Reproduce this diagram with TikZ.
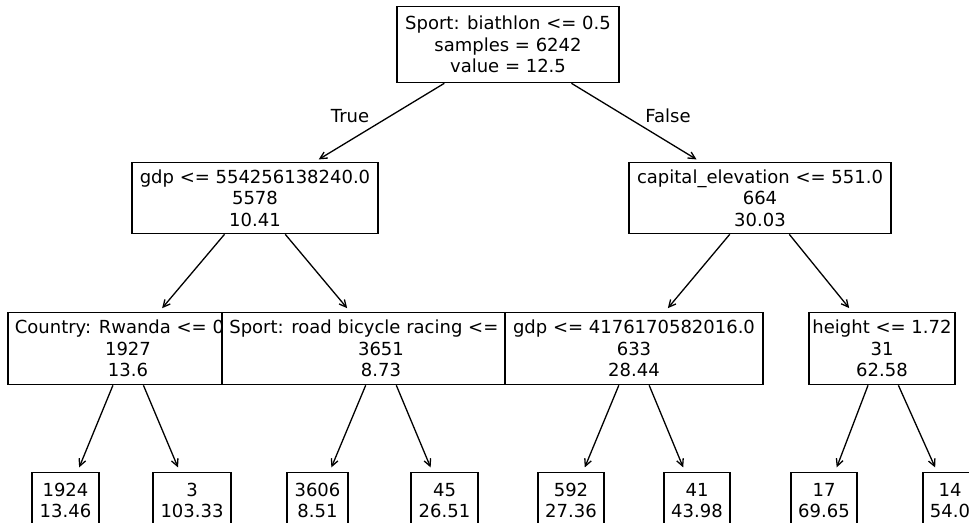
\documentclass[tikz,border=0pt]{standalone}
\usepackage{fontspec}
\setmainfont{DejaVu Sans}
\usetikzlibrary{arrows.meta}

\tikzset{
  split/.style={draw, fill=white, line width=1.3pt, align=center, inner sep=0pt, anchor=north, font=\fontsize{18}{21.5}\selectfont},
  leaf/.style={split, minimum height=56pt},
  edge/.style={-{Straight Barb[length=7pt,width=7pt]}, line width=1.3pt, shorten >=5pt},
  lbl/.style={font=\fontsize{18}{21.5}\selectfont}
}

\begin{document}
\begin{tikzpicture}[x=1pt,y=-1pt]
\useasboundingbox (0,0) rectangle (969,522);

\node[split, minimum width=222pt, minimum height=76pt] (root) at (508,6) {Sport: biathlon <= 0.5\\samples = 6242\\value = 12.5};

\node[split, minimum width=246pt, minimum height=71pt] (gdpA) at (255,162) {gdp <= 554256138240.0\\5578\\10.41};
\node[split, minimum width=262pt, minimum height=71pt] (elev) at (760,162) {capital\_elevation <= 551.0\\664\\30.03};

\node[split, minimum width=240pt, minimum height=72pt] (rwanda) at (128,312) {Country: Rwanda <= 0.5\\1927\\13.6};
\node[split, minimum width=318pt, minimum height=72pt] (road) at (381,312) {Sport: road bicycle racing <= 0.5\\3651\\8.73};
\node[split, minimum width=258pt, minimum height=72pt] (gdpB) at (634,312) {gdp <= 4176170582016.0\\633\\28.44};
\node[split, minimum width=146pt, minimum height=72pt] (height) at (882,312) {height <= 1.72\\31\\62.58};

\node[leaf, minimum width=67pt] (l1) at (65.5,472) {1924\\13.46};
\node[leaf, minimum width=78pt] (l2) at (192,472) {3\\103.33};
\node[leaf, minimum width=61pt] (l3) at (317.5,472) {3606\\8.51};
\node[leaf, minimum width=67pt] (l4) at (444.5,472) {45\\26.51};
\node[leaf, minimum width=66pt] (l5) at (571,472) {592\\27.36};
\node[leaf, minimum width=66pt] (l6) at (697,472) {41\\43.98};
\node[leaf, minimum width=66pt] (l7) at (824,472) {17\\69.65};
\node[leaf, minimum width=54pt] (l8) at (950,472) {14\\54.0};

\draw[edge] (root) -- (gdpA);
\draw[edge] (root) -- (elev);
\node[lbl] (true) at (350,116) {True};
\node[lbl] (false) at (668,116) {False};

\draw[edge] (gdpA) -- (rwanda);
\draw[edge] (gdpA) -- (road);
\draw[edge] (elev) -- (gdpB);
\draw[edge] (elev) -- (height);

\draw[edge] (rwanda) -- (l1);
\draw[edge] (rwanda) -- (l2);
\draw[edge] (road) -- (l3);
\draw[edge] (road) -- (l4);
\draw[edge] (gdpB) -- (l5);
\draw[edge] (gdpB) -- (l6);
\draw[edge] (height) -- (l7);
\draw[edge] (height) -- (l8);

\end{tikzpicture}
\end{document}
